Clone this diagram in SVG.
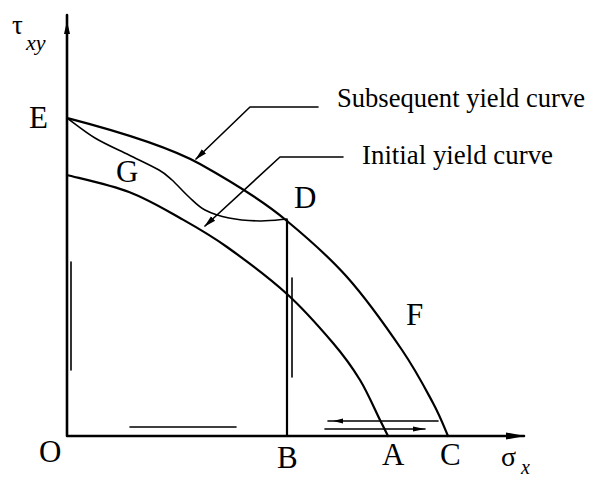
<svg xmlns="http://www.w3.org/2000/svg" width="600" height="480" viewBox="0 0 600 480">
<defs>
<style>
.ln{fill:none;stroke:#000;stroke-linecap:round;stroke-linejoin:round}
.ax{stroke-width:2.6}
.cv{stroke-width:2.2}
.th{stroke-width:1.6}
.lb{font-family:"Liberation Serif","Times New Roman",serif;fill:#000}
.pt{font-size:31px}
.tx{font-size:27px}
</style>
<marker id="ah" viewBox="0 0 12 8" refX="11" refY="4" markerWidth="12" markerHeight="8" markerUnits="userSpaceOnUse" orient="auto">
<path d="M0,1 L12,4 L0,7 Z" fill="#000"/>
</marker>
</defs>
<rect width="600" height="480" fill="#fff"/>

<g id="axes">
<path class="ln ax" d="M67,436 V15 M67,436 H524"/>
<path d="M67,21 L70,34 L64,34 Z" fill="#000"/>
<path d="M525,436 L506,432.5 L506,439.5 Z" fill="#000"/>
</g>

<g id="subsequent-curve">
<path class="ln cv" d="M67,118 C90,124 160,142 200,164 C225,178 260,198 287,221 C304.5,235.5 327.8,255.5 347,277 C366.2,298.5 387.7,329 402,350 C416.3,371 425.3,388.7 433,403 C440.7,417.3 445.5,430.5 448,436"/>
</g>

<g id="initial-curve">
<path class="ln cv" d="M67,175 C77.3,177.8 110.2,184.8 129,192 C147.8,199.2 163.7,208.8 180,218 C196.3,227.2 209.2,234.3 227,247 C244.8,259.7 269.3,278 287,294 C304.7,310 320.8,328.7 333,343 C345.2,357.3 352.2,367.2 360,380 C367.8,392.8 375.3,410.7 380,420 C384.7,429.3 386.7,433.3 388,436"/>
</g>

<g id="path-EGD">
<path class="ln th" d="M67,118 C71.7,121.3 84.7,131.8 95,138 C105.3,144.2 118.3,149.7 129,155 C139.7,160.3 151.8,165.8 159,170 C166.2,174.2 167,175.5 172,180 C177,184.5 183.5,192 189,197 C194.5,202 198.3,206.5 205,210 C211.7,213.5 219.8,216.2 229,218 C238.2,219.8 250.3,220.8 260,221 C269.7,221.2 282.5,219.3 287,219"/>
</g>

<g id="path-DB">
<path class="ln cv" d="M287,220 V436"/>
</g>

<g id="load-arrows">
<path class="ln th" d="M71,262 V370"/>
<path class="ln th" d="M292,278 V377"/>
<path class="ln th" d="M130,427 H236"/>
<path class="ln th" d="M438,421 H328"/>
<path d="M333,421 L343,418.5 L343,423.5 Z" fill="#000"/>
<path class="ln th" d="M325,429 H425"/>
<path d="M425,429 L413,426.5 L413,431.5 Z" fill="#000"/>
</g>

<g id="connectors">
<path class="ln th" d="M318,107 H250 L196,159" marker-end="url(#ah)"/>
<path class="ln th" d="M343,157 H280 L205,226" marker-end="url(#ah)"/>
</g>

<g id="labels">
<text class="lb" x="12" y="34" font-size="27">τ</text>
<text class="lb" x="26" y="50" font-size="22" font-style="italic">xy</text>
<text class="lb pt" x="29" y="128">E</text>
<text class="lb pt" x="116" y="182">G</text>
<text class="lb pt" x="294" y="208">D</text>
<text class="lb pt" x="406" y="325">F</text>
<text class="lb pt" x="39" y="462">O</text>
<text class="lb pt" x="277" y="468">B</text>
<text class="lb pt" x="382" y="465">A</text>
<text class="lb pt" x="440" y="465">C</text>
<text class="lb" x="501" y="466" font-size="28">σ</text>
<text class="lb" x="521" y="474" font-size="20" font-style="italic">x</text>
<text class="lb tx" x="337" y="107" textLength="248" lengthAdjust="spacingAndGlyphs">Subsequent yield curve</text>
<text class="lb tx" x="362" y="164" textLength="191" lengthAdjust="spacingAndGlyphs">Initial yield curve</text>
</g>
</svg>
